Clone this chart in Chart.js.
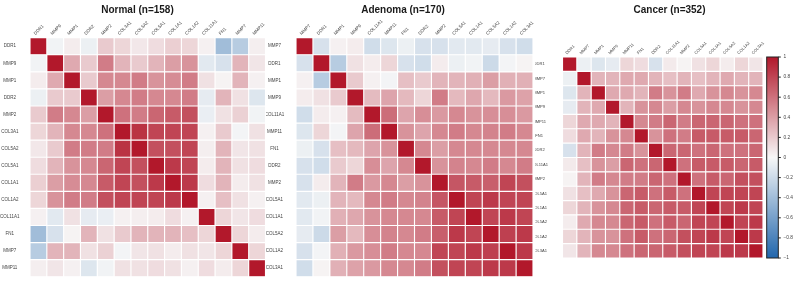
<!DOCTYPE html>
<html>
<head>
<meta charset="utf-8">
<script src="https://cdn.jsdelivr.net/npm/chart.js@4.4.1/dist/chart.umd.min.js"></script>
<style>
  html, body { margin: 0; padding: 0; background: #fff; }
  body { position: relative; width: 798px; height: 284px; overflow: hidden; }
  canvas { position: absolute; top: 0; }
</style>
</head>
<body>
<canvas id="normalChart" width="275" height="284" style="left:0px"></canvas>
<canvas id="adenomaChart" width="274" height="284" style="left:266px"></canvas>
<canvas id="cancerChart" width="269" height="284" style="left:535px"></canvas>
<script>
// --- DATA ---
const normalGenes = ['DDR1', 'MMP9', 'MMP1', 'DDR2', 'MMP2', 'COL3A1', 'COL5A2', 'COL5A1', 'COL1A1', 'COL1A2', 'COL11A1', 'FN1', 'MMP7', 'MMP11'];
const adenomaGenes = ['MMP7', 'DDR1', 'MMP1', 'MMP9', 'COL11A1', 'MMP11', 'FN1', 'DDR2', 'MMP2', 'COL5A1', 'COL1A1', 'COL5A2', 'COL1A2', 'COL3A1'];
const cancerGenes = ['DDR1', 'MMP7', 'MMP1', 'MMP9', 'MMP11', 'FN1', 'DDR2', 'COL11A1', 'MMP2', 'COL5A1', 'COL1A1', 'COL5A2', 'COL1A2', 'COL3A1'];

const normalCorr = [
    [1, -0.03, 0.05, -0.05, 0.2, 0.15, 0.07, 0.12, 0.18, 0.15, 0.03, -0.4, -0.3, 0.04],
    [-0.03, 1, 0.35, 0.2, 0.55, 0.3, 0.2, 0.3, 0.4, 0.45, -0.1, -0.15, 0.3, 0.08],
    [0.05, 0.35, 1, 0.2, 0.5, 0.5, 0.55, 0.45, 0.48, 0.55, 0.1, 0.02, 0.3, 0.03],
    [-0.05, 0.2, 0.2, 1, 0.4, 0.5, 0.55, 0.5, 0.5, 0.55, -0.08, 0.3, 0.1, -0.12],
    [0.2, 0.55, 0.5, 0.4, 1, 0.6, 0.55, 0.65, 0.7, 0.75, -0.06, 0.1, 0.17, -0.03],
    [0.15, 0.3, 0.5, 0.5, 0.6, 1, 0.88, 0.8, 0.8, 0.8, 0.03, 0.2, -0.02, 0.1],
    [0.07, 0.2, 0.55, 0.55, 0.55, 0.88, 1, 0.75, 0.75, 0.8, 0.04, 0.3, 0.08, 0.1],
    [0.12, 0.3, 0.45, 0.5, 0.65, 0.8, 0.75, 1, 0.85, 0.8, 0.05, 0.3, 0.1, 0.12],
    [0.18, 0.4, 0.48, 0.5, 0.7, 0.8, 0.75, 0.85, 1, 0.85, 0.12, 0.3, 0.05, 0.1],
    [0.15, 0.45, 0.55, 0.55, 0.75, 0.8, 0.8, 0.8, 0.85, 1, 0.03, 0.25, 0.1, 0.03],
    [0.03, -0.1, 0.1, -0.08, -0.06, 0.03, 0.04, 0.05, 0.12, 0.03, 1, 0.15, 0.08, 0.12],
    [-0.4, -0.15, 0.02, 0.3, 0.1, 0.2, 0.3, 0.3, 0.3, 0.25, 0.15, 1, 0.15, 0.05],
    [-0.3, 0.3, 0.3, 0.1, 0.17, -0.02, 0.08, 0.1, 0.05, 0.1, 0.08, 0.15, 1, 0.15],
    [0.04, 0.08, 0.03, -0.12, -0.03, 0.1, 0.1, 0.12, 0.1, 0.03, 0.12, 0.05, 0.15, 1]
];

const adenomaCorr = [
    [1, -0.15, 0.03, 0.05, -0.18, -0.12, -0.05, -0.15, -0.15, -0.1, -0.1, -0.08, -0.15, -0.18],
    [-0.15, 1, -0.3, 0.1, 0.05, 0.15, -0.15, -0.18, 0.05, -0.05, -0.03, -0.2, -0.02, 0.02],
    [0.03, -0.3, 1, 0.2, 0.03, -0.02, 0.25, 0.2, 0.3, 0.3, 0.32, 0.4, 0.32, 0.32],
    [0.05, 0.1, 0.2, 1, 0.27, 0.37, 0.28, 0.15, 0.55, 0.28, 0.36, 0.28, 0.42, 0.38],
    [-0.18, 0.05, 0.03, 0.27, 1, 0.62, 0.37, 0.47, 0.42, 0.5, 0.45, 0.47, 0.47, 0.42],
    [-0.12, 0.15, -0.02, 0.37, 0.62, 1, 0.45, 0.37, 0.5, 0.55, 0.5, 0.52, 0.55, 0.5],
    [-0.05, -0.15, 0.25, 0.28, 0.37, 0.45, 1, 0.5, 0.4, 0.5, 0.5, 0.5, 0.5, 0.5],
    [-0.15, -0.18, 0.2, 0.15, 0.47, 0.37, 0.5, 1, 0.45, 0.52, 0.5, 0.55, 0.5, 0.55],
    [-0.15, 0.05, 0.3, 0.55, 0.42, 0.5, 0.4, 0.45, 1, 0.72, 0.7, 0.68, 0.8, 0.75],
    [-0.1, -0.05, 0.3, 0.28, 0.5, 0.55, 0.5, 0.52, 0.72, 1, 0.8, 0.85, 0.8, 0.8],
    [-0.1, -0.03, 0.32, 0.36, 0.45, 0.5, 0.5, 0.5, 0.7, 0.8, 1, 0.8, 0.85, 0.8],
    [-0.08, -0.2, 0.4, 0.28, 0.47, 0.52, 0.5, 0.55, 0.68, 0.85, 0.8, 1, 0.82, 0.85],
    [-0.15, -0.02, 0.32, 0.42, 0.47, 0.55, 0.5, 0.5, 0.8, 0.8, 0.85, 0.82, 1, 0.85],
    [-0.18, 0.02, 0.32, 0.38, 0.42, 0.5, 0.5, 0.55, 0.75, 0.8, 0.8, 0.85, 0.85, 1]
];

const cancerCorr = [
    [1, -0.05, -0.12, -0.08, 0.15, 0.12, -0.15, 0.06, 0.02, 0.1, 0.15, 0.05, 0.15, 0.08],
    [-0.05, 1, 0.3, 0.3, 0.35, 0.35, 0.3, 0.25, 0.3, 0.25, 0.3, 0.35, 0.3, 0.3],
    [-0.12, 0.3, 1, 0.35, 0.35, 0.3, 0.55, 0.45, 0.55, 0.35, 0.45, 0.5, 0.45, 0.5],
    [-0.08, 0.3, 0.35, 1, 0.3, 0.45, 0.5, 0.4, 0.5, 0.45, 0.5, 0.5, 0.45, 0.5],
    [0.15, 0.35, 0.35, 0.3, 1, 0.5, 0.55, 0.65, 0.55, 0.65, 0.65, 0.65, 0.6, 0.6],
    [0.12, 0.35, 0.3, 0.45, 0.5, 1, 0.45, 0.6, 0.55, 0.7, 0.7, 0.7, 0.7, 0.65],
    [-0.15, 0.3, 0.55, 0.5, 0.55, 0.45, 1, 0.65, 0.65, 0.6, 0.65, 0.6, 0.6, 0.65],
    [0.06, 0.25, 0.45, 0.4, 0.65, 0.6, 0.65, 1, 0.6, 0.7, 0.7, 0.7, 0.65, 0.7],
    [0.02, 0.3, 0.55, 0.5, 0.55, 0.55, 0.65, 0.6, 1, 0.6, 0.7, 0.65, 0.75, 0.75],
    [0.1, 0.25, 0.35, 0.45, 0.65, 0.7, 0.6, 0.7, 0.6, 1, 0.8, 0.8, 0.8, 0.8],
    [0.15, 0.3, 0.45, 0.5, 0.65, 0.7, 0.65, 0.7, 0.7, 0.8, 1, 0.8, 0.85, 0.8],
    [0.05, 0.35, 0.5, 0.5, 0.65, 0.7, 0.6, 0.7, 0.65, 0.8, 0.8, 1, 0.8, 0.85],
    [0.15, 0.3, 0.45, 0.45, 0.6, 0.7, 0.6, 0.65, 0.75, 0.8, 0.85, 0.8, 1, 0.85],
    [0.08, 0.3, 0.5, 0.5, 0.6, 0.65, 0.65, 0.7, 0.75, 0.8, 0.8, 0.85, 0.85, 1]
];

const colorbarTicks = [1, 0.8, 0.6, 0.4, 0.2, 0, -0.2, -0.4, -0.6, -0.8, -1];

// --- COLOUR SCALE (blue - white - red) ---
const FONT = '"Liberation Sans", Arial, sans-serif';
const LOW = [33, 102, 172], MID = [247, 247, 247], HIGH = [178, 24, 43];

const corrColor = (v) => {
    const end = v >= 0 ? HIGH : LOW;
    const t = Math.min(1, Math.abs(v));
    const c = MID.map((m, i) => Math.round(m + (end[i] - m) * t));
    return `rgb(${c[0]},${c[1]},${c[2]})`;
};

// --- COLOUR BAR (drawn beside the cancer panel, on its right axis) ---
const colorbarPlugin = {
    id: 'colorbar',
    afterDraw(chart) {
        const s = chart.scales.y2;
        const ctx = chart.ctx;
        const top = s.getPixelForValue(colorbarTicks[0]);
        const bottom = s.getPixelForValue(colorbarTicks[colorbarTicks.length - 1]);
        const x0 = s.left + 3.7, w = 11.6;
        const grad = ctx.createLinearGradient(0, top, 0, bottom);
        for (let i = 0; i <= 40; i++) {
            grad.addColorStop(i / 40, corrColor(1 - i / 20));
        }
        ctx.save();
        ctx.fillStyle = grad;
        ctx.fillRect(x0, top, w, bottom - top);
        ctx.strokeStyle = '#222';
        ctx.lineWidth = 1;
        ctx.strokeRect(x0, top, w, bottom - top);
        ctx.beginPath();
        s.ticks.forEach(t => {
            const y = s.getPixelForValue(t.value);
            ctx.moveTo(x0 + w, y);
            ctx.lineTo(x0 + w + 2.5, y);
        });
        ctx.stroke();
        ctx.restore();
    }
};

// --- HEATMAP BUILDER ---
const renderHeatmap = (canvasId, title, genes, corr, geo) => {
    const datasets = genes.map((colGene, j) => ({
        label: colGene,
        data: genes.map((rowGene, i) => ({ x: 1, y: rowGene, v: corr[i][j] })),
        backgroundColor: (ctx) => corrColor(ctx.raw ? ctx.raw.v : 0),
        borderColor: '#ffffff',
        borderWidth: 0.9,
        borderSkipped: false,
        barPercentage: 1,
        categoryPercentage: 1
    }));

    const noPad = (axis) => {
        axis.paddingLeft = 0; axis.paddingRight = 0;
        axis.paddingTop = 0; axis.paddingBottom = 0;
    };

    const y2 = geo.colorbar ? {
        type: 'linear',
        position: 'right',
        offset: false,
        min: -1,
        max: 1,
        grid: { display: false, drawTicks: false },
        border: { display: false },
        afterBuildTicks: (axis) => { axis.ticks = colorbarTicks.map(v => ({ value: v })); },
        ticks: {
            padding: 20.5,
            color: '#444',
            font: { family: FONT, size: 4.8 },
            callback: (v) => v < 0 ? '\u2212' + (-v) : String(v)
        },
        afterFit: (axis) => { axis.width = geo.rightW; noPad(axis); }
    } : {
        type: 'linear',
        position: 'right',
        grid: { display: false, drawTicks: false },
        border: { display: false },
        ticks: { display: false },
        afterFit: (axis) => { axis.width = geo.rightW; noPad(axis); }
    };

    new Chart(document.getElementById(canvasId), {
        type: 'bar',
        data: { labels: genes, datasets },
        options: {
            indexAxis: 'y',
            responsive: false,
            animation: false,
            events: [],
            layout: { padding: { top: 0, left: 0, right: 0, bottom: geo.padBottom } },
            scales: {
                x: {
                    display: false,
                    stacked: true,
                    min: 0,
                    max: genes.length
                },
                x2: {
                    type: 'category',
                    position: 'top',
                    labels: genes,
                    offset: true,
                    grid: { display: false, drawTicks: false },
                    border: { display: false },
                    ticks: {
                        autoSkip: false,
                        minRotation: 45,
                        maxRotation: 45,
                        padding: geo.colPad,
                        color: '#444',
                        font: { family: FONT, size: geo.fontSize }
                    },
                    afterFit: (axis) => { axis.height = geo.topH; noPad(axis); }
                },
                y: {
                    stacked: true,
                    grid: { display: false },
                    border: { display: false },
                    ticks: {
                        autoSkip: false,
                        crossAlign: 'center',
                        padding: geo.rowPad,
                        color: '#444',
                        font: { family: FONT, size: geo.fontSize }
                    },
                    afterFit: (axis) => { axis.width = geo.leftW; noPad(axis); }
                },
                y2
            },
            plugins: {
                legend: { display: false },
                tooltip: { enabled: false },
                title: {
                    display: true,
                    text: title,
                    color: '#1a1a1a',
                    font: { family: FONT, size: 10, weight: 'bold' },
                    padding: { top: 4.5, bottom: 0 }
                }
            }
        },
        plugins: geo.colorbar ? [colorbarPlugin] : []
    });
};

document.addEventListener('DOMContentLoaded', () => {
    renderHeatmap('normalChart', 'Normal (n=158)', normalGenes, normalCorr,
        { leftW: 30, rightW: 9.5, topH: 21.2, padBottom: 7.3, rowPad: 2.5, colPad: 1.5, fontSize: 4.5 });
    renderHeatmap('adenomaChart', 'Adenoma (n=170)', adenomaGenes, adenomaCorr,
        { leftW: 30, rightW: 7, topH: 21.2, padBottom: 7.3, rowPad: 3.8, colPad: 1.5, fontSize: 4.5 });
    renderHeatmap('cancerChart', 'Cancer (n=352)', cancerGenes, cancerCorr,
        { leftW: 27.5, rightW: 41, topH: 40.5, padBottom: 26, rowPad: 6.5, colPad: 1.5, fontSize: 4.1, colorbar: true });
});
</script>
</body>
</html>
